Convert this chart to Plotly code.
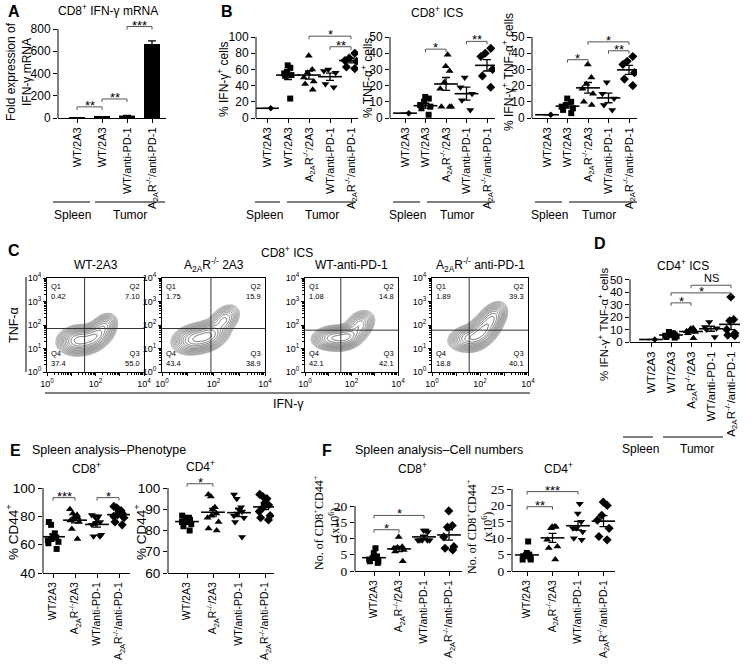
import numpy as np
import plotly.graph_objects as go

W, H = 753, 665
SANS = "Liberation Sans"
SERIF = "Liberation Serif"
A2A = "A<sub>2A</sub>R<sup>-/-</sup>"

# ---------------- data ----------------
# Panel A (bar: fold expression of IFN-g mRNA)
a_labels = ["WT/2A3", "WT/2A3", "WT/anti-PD-1", A2A + "/anti-PD-1"]
a_mean = [2, 11, 22, 665]
a_sem = [0, 1, 2, 28]
a_yticks = [0, 200, 400, 600, 800]
a_sig = [(0, 1, 100, "**"), (1, 2, 171, "**"), (2, 3, 822, "***")]

# Panel B (CD8+ ICS)
ics_labels = ["WT/2A3", "WT/2A3", A2A + "/2A3", "WT/anti-PD-1", A2A + "/anti-PD-1"]
b1_pts = [[12], [65, 62, 57, 55, 53, 52, 24], [77, 60, 56, 50, 45, 42, 35],
          [60, 58, 56, 42, 38], [80, 74, 71, 70, 63, 61]]
b1_mean = [12, 53, 53, 51, 71]
b1_sem = [0, 5.5, 5, 4.5, 3]
b1_yticks = [0, 20, 40, 60, 80, 100]
b1_sig = [(2, 4, 101, "*"), (3, 4, 88, "**")]

b2_pts = [[3], [13, 12, 10, 8, 7, 6, 2], [39, 32, 29, 22, 18, 7, 7, 7],
          [25, 19, 15, 11, 5], [43, 40, 38, 30, 26, 19]]
b2_mean = [3, 7.6, 21, 15, 32.5]
b2_sem = [0, 1.5, 4, 4, 3.5]
b2_yticks = [0, 10, 20, 30, 40, 50]
b2_sig = [(1, 2, 42.5, "*"), (3, 4, 47.3, "**")]

b3_pts = [[2], [12, 10, 8, 7, 6, 5, 3], [33, 25, 21, 18, 15, 10, 8],
          [22, 15, 12, 8, 5], [38, 35, 33, 28, 24, 20]]
b3_mean = [2, 7.3, 18.6, 12.4, 29.7]
b3_sem = [0, 1.2, 3.3, 3, 2.8]
b3_yticks = [0, 10, 20, 30, 40, 50]
b3_sig = [(1, 2, 36, "*"), (2, 4, 47, "*"), (3, 4, 41.5, "**")]

# Panel C (flow contour plots)
c_titles = ["WT-2A3", A2A + " 2A3", "WT-anti-PD-1", A2A + " anti-PD-1"]
c_q1 = ["0.42", "1.75", "1.08", "1.89"]
c_q2 = ["7.10", "15.9", "14.8", "39.3"]
c_q4 = ["37.4", "43.4", "42.1", "18.8"]
c_q3 = ["55.0", "38.9", "42.1", "40.1"]
c_gate_x = [1.55, 1.9, 1.54, 1.55]
c_gate_y = [1.85, 1.85, 1.78, 1.78]
# population blobs: (x, y, sx, sy, rho, weight) in log10 units
c_blobs = [
    [(1.3, 1.35, 0.32, 0.23, 0.1, 1.0), (1.95, 1.5, 0.3, 0.25, 0.4, 0.85), (2.35, 1.95, 0.22, 0.22, 0.3, 0.3)],
    [(1.25, 1.4, 0.32, 0.24, 0.2, 0.9), (1.8, 1.55, 0.3, 0.25, 0.3, 1.0), (2.4, 2.2, 0.24, 0.26, 0.4, 0.4)],
    [(1.2, 1.45, 0.33, 0.19, 0.1, 0.9), (1.8, 1.5, 0.3, 0.21, 0.3, 1.0), (2.35, 2.0, 0.25, 0.24, 0.3, 0.45)],
    [(1.55, 1.45, 0.32, 0.21, 0.2, 0.7), (2.1, 1.75, 0.3, 0.3, 0.5, 1.0), (2.5, 2.3, 0.24, 0.26, 0.4, 0.55)],
]

# Panel D (CD4+ ICS)
d_pts = [[2], [8, 7, 6.5, 6, 5.5, 5, 4.5, 4, 3.5], [11, 10.5, 10, 9, 8.5, 8, 7, 3],
         [16, 12, 11, 10, 4], [36, 18, 17, 10, 7, 5.5, 5]]
d_mean = [2, 5.6, 8.4, 10.6, 14.1]
d_sem = [0, 0.5, 0.9, 2, 4.2]
d_yticks = [0, 10, 20, 30, 40, 50]
d_sig = [(1, 2, 31.3, "*"), (1, 4, 39.3, "*"), (2, 4, 45.4, "NS")]

# Panel E (spleen phenotype, % CD44+)
e_labels = ["WT/2A3", A2A + "/2A3", "WT/anti-PD-1", A2A + "/anti-PD-1"]
e1_pts = [[76, 74, 68, 66, 65, 64, 63, 62, 61, 57], [85, 82, 81, 80, 79, 78, 77, 76, 71, 64],
          [81, 80, 80, 78, 76, 75, 74, 67, 66, 66], [87, 86, 84, 83, 82, 81, 80, 79, 76, 74]]
e1_mean = [65.6, 77.3, 74.3, 81.2]
e1_sem = [1.8, 1.9, 1.9, 1.3]
e1_yticks = [40, 60, 80, 100]
e1_sig = [(0, 1, 93.2, "***"), (2, 3, 93.2, "*")]
e2_pts = [[87, 86, 86, 85, 85, 84, 84, 83, 82, 80], [97, 96, 91, 90, 88, 87, 86, 84, 81, 80],
          [97, 95, 91, 90, 89, 88, 87, 86, 84, 77], [97, 96, 95, 93, 92, 91, 89, 87, 86, 85]]
e2_mean = [84.2, 88.6, 88.4, 91.1]
e2_sem = [0.6, 1.8, 1.8, 1.3]
e2_yticks = [60, 70, 80, 90, 100]
e2_sig = [(0, 1, 102, "*")]

# Panel F (spleen cell numbers, x10^6)
f1_pts = [[7, 5.5, 4.5, 4, 3.5, 3, 3, 2.5], [10.5, 7.5, 7.2, 7, 6.5, 6, 3],
          [12.5, 12.5, 12, 9.5, 9.5, 9.5, 9.5, 9.5], [18.5, 14, 13.5, 10.5, 7.5, 7, 6.5]]
f1_mean = [4.1, 6.8, 10.5, 11.1]
f1_sem = [0.5, 0.8, 0.5, 1.6]
f1_yticks = [0, 5, 10, 15, 20]
f1_sig = [(0, 1, 12.7, "*"), (0, 2, 17.1, "*")]
f2_pts = [[9, 5.5, 5, 4.5, 4.5, 4, 3.5, 3.5], [13.5, 13.5, 13.5, 13, 9.5, 7.5, 7, 3.5],
          [20.5, 17.5, 15, 13, 13, 12, 10, 9.5], [21, 20, 17, 15.5, 13, 10.5, 9.5]]
f2_mean = [4.9, 10.1, 13.8, 15.2]
f2_sem = [0.6, 1.4, 1.3, 1.7]
f2_yticks = [0, 5, 10, 15, 20, 25]
f2_sig = [(0, 1, 19.6, "**"), (0, 2, 24.2, "***")]

ics_symbols = ["diamond", "square", "triangle-up", "triangle-down", "diamond"]
ics_sizes = [5, 6, 7, 7, 7]
e_symbols = ["square", "triangle-up", "triangle-down", "diamond"]
e_sizes = [6, 7, 7, 7]

# ---------------- figure ----------------
fig = go.Figure()
layout = dict(template="none", width=W, height=H, margin=dict(l=0, r=0, t=0, b=0, pad=0, autoexpand=False),
              paper_bgcolor="white", plot_bgcolor="white", showlegend=False,
              font=dict(family=SANS, color="black"))
ann, shp = [], []


def ids(i):
    return ("x" if i == 1 else f"x{i}"), ("y" if i == 1 else f"y{i}")


def keys(i):
    return ("xaxis" if i == 1 else f"xaxis{i}"), ("yaxis" if i == 1 else f"yaxis{i}")


def text(x, y, s, size=12, family=SANS, angle=0, xanchor="center", yanchor="middle", align="center"):
    ann.append(dict(x=x / W, y=1 - y / H, xref="paper", yref="paper", text=s, showarrow=False,
                    font=dict(size=size, family=family, color="black"), textangle=angle,
                    xanchor=xanchor, yanchor=yanchor, align=align))


def pline(x0, y0, x1, y1, color="black", width=1):
    shp.append(dict(type="line", xref="paper", yref="paper", x0=x0 / W, x1=x1 / W,
                    y0=1 - y0 / H, y1=1 - y1 / H, line=dict(color=color, width=width)))


def cat_panel(i, spec, labels, yticks, yfont=12, yfam=SANS, xfont=11):
    x0, x1, top, bottom, c0, step, ymin, ppu = spec
    xr = [-(c0 - x0) / step, (x1 - c0) / step]
    yr = [ymin, ymin + (bottom - top) / ppu]
    xk, yk = keys(i)
    xid, yid = ids(i)
    layout[xk] = dict(domain=[x0 / W, x1 / W], range=xr, anchor=yid, showgrid=False, zeroline=False,
                      automargin=False, tickmode="array", tickvals=list(range(len(labels))), ticktext=labels,
                      tickangle=-90, ticks="outside", ticklen=4, tickcolor="black", tickwidth=1,
                      showline=True, linecolor="black", linewidth=1,
                      tickfont=dict(size=xfont, family=SANS, color="black"))
    layout[yk] = dict(domain=[1 - bottom / H, 1 - top / H], range=yr, anchor=xid, showgrid=False,
                      zeroline=False, automargin=False, tickmode="array", tickvals=yticks,
                      ticks="outside", ticklen=4, tickcolor="black", tickwidth=1, showline=False,
                      tickfont=dict(size=yfont, family=yfam, color="black"))
    shp.append(dict(type="line", xref="paper", yref=yid, x0=x0 / W, x1=x0 / W, y0=ymin, y1=yticks[-1],
                    line=dict(color="black", width=1)))
    return step, ppu


def sig(i, ppu, items):
    xid, yid = ids(i)
    d = 3.0 / ppu
    for a, b, y, s in items:
        shp.append(dict(type="path", xref=xid, yref=yid,
                        path=f"M{a},{y - d} L{a},{y} L{b},{y} L{b},{y - d}",
                        line=dict(color="#555", width=1)))
        ann.append(dict(xref=xid, yref=yid, x=(a + b) / 2, y=y, text=s, showarrow=False,
                        yanchor="bottom", yshift=(-8 if "*" in s else -1),
                        font=dict(size=13 if "*" in s else 11, family=SANS, color="black")))


def dots(i, step, pts, means, sems, symbols, sizes):
    xid, yid = ids(i)
    for k, vals in enumerate(pts):
        fig.add_trace(go.Box(x=[k] * len(vals), y=vals, xaxis=xid, yaxis=yid, boxpoints="all",
                             jitter=0.9, pointpos=0, width=16.0 / step,
                             fillcolor="rgba(0,0,0,0)", line=dict(color="rgba(0,0,0,0)", width=0),
                             whiskerwidth=0, marker=dict(symbol=symbols[k], size=sizes[k], color="black"),
                             hoverinfo="skip", showlegend=False))
    fig.add_trace(go.Scatter(x=list(range(len(means))), y=means, xaxis=xid, yaxis=yid, mode="markers",
                             marker=dict(symbol="line-ew", size=17, line=dict(width=1.6, color="black")),
                             error_y=dict(type="data", array=sems, color="black", thickness=1.3, width=4),
                             hoverinfo="skip", showlegend=False))


def groups(line_y, text_y, sp_line, tu_line, sp_x, tu_x):
    pline(sp_line[0], line_y, sp_line[1], line_y)
    pline(tu_line[0], line_y, tu_line[1], line_y)
    text(sp_x, text_y, "Spleen", size=12)
    text(tu_x, text_y, "Tumor", size=12)


# ---- Panel A ----
step, ppu = cat_panel(1, (58, 166, 20, 118, 77, 25, 0, 89 / 800), a_labels, a_yticks, yfont=12)
fig.add_trace(go.Bar(x=list(range(4)), y=a_mean, width=0.64, marker=dict(color="black", line=dict(width=0)),
                     error_y=dict(type="data", array=a_sem, color="black", thickness=1.3, width=4),
                     xaxis="x", yaxis="y", hoverinfo="skip", showlegend=False))
sig(1, ppu, a_sig)
text(6, 12, "<b>A</b>", size=16, xanchor="left")
text(108, 10, "CD8<sup>+</sup> IFN-γ mRNA", size=12)
text(19, 72, "Fold expression of<br>IFN-γ mRNA", size=12, angle=-90)
groups(202, 215, (53, 90), (95, 165), 72, 130)

# ---- Panel B ----
step, ppu = cat_panel(2, (256, 358, 25, 118, 267, 21, 0, 0.81), ics_labels, b1_yticks)
dots(2, step, b1_pts, b1_mean, b1_sem, ics_symbols, ics_sizes)
sig(2, ppu, b1_sig)
step, ppu = cat_panel(3, (390, 495, 25, 118, 405, 20.5, 0, 1.62), ics_labels, b2_yticks)
dots(3, step, b2_pts, b2_mean, b2_sem, ics_symbols, ics_sizes)
sig(3, ppu, b2_sig)
step, ppu = cat_panel(4, (532, 637, 25, 118, 547, 20.5, 0, 1.62), ics_labels, b3_yticks)
dots(4, step, b3_pts, b3_mean, b3_sem, ics_symbols, ics_sizes)
sig(4, ppu, b3_sig)
text(227, 12, "<b>B</b>", size=16)
text(437, 12, "CD8<sup>+</sup> ICS", size=12)
text(223, 79, "% IFN-γ<sup>+</sup> cells", size=12, angle=-90)
text(367, 78, "% TNF-α<sup>+</sup> cells", size=12, angle=-90)
text(508, 72, "% IFN-γ<sup>+</sup> TNF-α<sup>+</sup> cells", size=12, angle=-90)
groups(202, 215, (255, 280), (287, 356), 264, 322)
groups(202, 215, (393, 420), (427, 495), 407, 457)
groups(202, 215, (535, 562), (569, 637), 549, 599)

# ---- Panel D ----
step, ppu = cat_panel(5, (630, 740, 268, 342, 651, 20, 0, 1.25), ics_labels, d_yticks, yfont=11.5, xfont=11.5)
dots(5, step, d_pts, d_mean, d_sem, ics_symbols, ics_sizes)
sig(5, ppu, d_sig)
text(600, 243, "<b>D</b>", size=16)
text(683, 265, "CD4<sup>+</sup> ICS", size=12)
text(603, 325, "% IFN-γ<sup>+</sup> TNF-α<sup>+</sup> cells", size=11.5, angle=-90)
groups(437, 449, (623, 653), (663, 723), 640, 697)

# ---- Panel E ----
step, ppu = cat_panel(6, (43, 130, 478, 573, 53, 22, 40, 85 / 60), e_labels, e1_yticks, yfont=13.5, xfont=10.5)
dots(6, step, e1_pts, e1_mean, e1_sem, e_symbols, e_sizes)
sig(6, ppu, e1_sig)
step, ppu = cat_panel(7, (168, 274, 476, 573, 187, 26, 60, 2.125), e_labels, e2_yticks, yfont=13.5, xfont=10.5)
dots(7, step, e2_pts, e2_mean, e2_sem, e_symbols, e_sizes)
sig(7, ppu, e2_sig)
text(8, 450, "<b>E</b>", size=16, xanchor="left")
text(30, 450, "Spleen analysis–Phenotype", size=12.5, xanchor="left")
text(86, 468, "CD8<sup>+</sup>", size=12)
text(200, 466, "CD4<sup>+</sup>", size=12)
text(12, 532, "% CD44<sup>+</sup>", size=13.5, angle=-90)
text(140, 532, "% CD44<sup>+</sup>", size=13.5, angle=-90)

# ---- Panel F ----
step, ppu = cat_panel(8, (355, 462, 498, 571, 374, 25, 0, 3.25), e_labels, f1_yticks, yfont=13.5, yfam=SERIF, xfont=10.5)
dots(8, step, f1_pts, f1_mean, f1_sem, e_symbols, e_sizes)
sig(8, ppu, f1_sig)
step, ppu = cat_panel(9, (512, 615, 482, 571, 527, 25.5, 0, 3.28), e_labels, f2_yticks, yfont=13.5, yfam=SERIF, xfont=10.5)
dots(9, step, f2_pts, f2_mean, f2_sem, e_symbols, e_sizes)
sig(9, ppu, f2_sig)
text(320, 450, "<b>F</b>", size=16, xanchor="left")
text(353, 450, "Spleen analysis–Cell numbers", size=12.5, xanchor="left")
text(413, 468, "CD8<sup>+</sup>", size=12)
text(558, 468, "CD4<sup>+</sup>", size=12)
text(326, 523, "No. of CD8<sup>+</sup>CD44<sup>+</sup><br>(x10<sup>6</sup>)", size=12, family=SERIF, angle=-90)
text(479, 527, "No. of CD8<sup>+</sup>CD44<sup>+</sup><br>(x10<sup>6</sup>)", size=12, family=SERIF, angle=-90)

# ---- Panel C ----
c_boxes = [(47, 144), (162, 265), (305, 398), (432, 528)]
c_top, c_bottom = 278, 372
gx = np.linspace(0, 4, 161)
gy = np.linspace(0, 4, 161)
GX, GY = np.meshgrid(gx, gy)
minor = [n + np.log10(m) for n in range(4) for m in range(2, 10)]
for j in range(4):
    i = 10 + j
    xid, yid = ids(i)
    xk, yk = keys(i)
    x0, x1 = c_boxes[j]
    layout[xk] = dict(domain=[x0 / W, x1 / W], range=[0, 4], anchor=yid, showgrid=False, zeroline=False,
                      automargin=False, showline=True, mirror=True, linecolor="black", linewidth=1,
                      tickmode="array", tickvals=[0, 1, 2, 3, 4],
                      ticktext=["10<sup>0</sup>", "", "10<sup>2</sup>", "", "10<sup>4</sup>"],
                      ticks="outside", ticklen=3, tickcolor="black", tickwidth=1,
                      minor=dict(tickvals=minor, ticks="outside", ticklen=2, tickcolor="black", tickwidth=1),
                      tickfont=dict(size=9, family=SANS, color="black"))
    layout[yk] = dict(domain=[1 - c_bottom / H, 1 - c_top / H], range=[0, 4], anchor=xid, showgrid=False,
                      zeroline=False, automargin=False, showline=True, mirror=True, linecolor="black",
                      linewidth=1, tickmode="array", tickvals=[0, 1, 2, 3, 4],
                      ticktext=["10<sup>%d</sup>" % k for k in range(5)],
                      ticks="outside", ticklen=3, tickcolor="black", tickwidth=1,
                      minor=dict(tickvals=minor, ticks="outside", ticklen=2, tickcolor="black", tickwidth=1),
                      tickfont=dict(size=9, family=SANS, color="black"))
    z = np.zeros_like(GX)
    for (mx, my, sx, sy, rho, w) in c_blobs[j]:
        dx = (GX - mx) / sx
        dy = (GY - my) / sy
        q = (dx ** 2 - 2 * rho * dx * dy + dy ** 2) / (1 - rho ** 2)
        z = z + w * np.exp(-q / 2)
    z = np.log10(z / z.max() + 1e-12)
    fig.add_trace(go.Contour(x=gx, y=gy, z=z, xaxis=xid, yaxis=yid, showscale=False,
                             contours=dict(coloring="lines", start=-1.9, end=-0.1, size=0.15),
                             colorscale=[[0, "#9a9a9a"], [1, "#444444"]], zmin=-1.9, zmax=0,
                             line=dict(width=0.8, smoothing=1.0), hoverinfo="skip"))
    gxv, gyv = c_gate_x[j], c_gate_y[j]
    shp.append(dict(type="line", xref=xid, yref=yid, x0=gxv, x1=gxv, y0=0, y1=4, line=dict(color="#333", width=1)))
    shp.append(dict(type="line", xref=xid, yref=yid, x0=0, x1=4, y0=gyv, y1=gyv, line=dict(color="#333", width=1)))
    qf = dict(size=7.5, family=SANS, color="black")
    ann.append(dict(xref=xid, yref=yid, x=0.08, y=3.92, text="Q1<br>" + c_q1[j], showarrow=False,
                    xanchor="left", yanchor="top", align="left", font=qf))
    ann.append(dict(xref=xid, yref=yid, x=3.92, y=3.92, text="Q2<br>" + c_q2[j], showarrow=False,
                    xanchor="right", yanchor="top", align="right", font=qf))
    ann.append(dict(xref=xid, yref=yid, x=0.08, y=0.08, text="Q4<br>" + c_q4[j], showarrow=False,
                    xanchor="left", yanchor="bottom", align="left", font=qf))
    ann.append(dict(xref=xid, yref=yid, x=3.92, y=0.08, text="Q3<br>" + c_q3[j], showarrow=False,
                    xanchor="right", yanchor="bottom", align="right", font=qf))
    text((x0 + x1) / 2, 265, c_titles[j], size=12)

text(6, 250, "<b>C</b>", size=16, xanchor="left")
text(287, 252, "CD8<sup>+</sup> ICS", size=12)
text(14, 325, "TNF-α", size=12.5, angle=-90)
pline(26, 277, 26, 372)
pline(45, 393, 530, 393)
text(288, 404, "IFN-γ", size=12.5)

layout["annotations"] = ann
layout["shapes"] = shp
fig.update_layout(**layout)
fig.write_html("out.html", config={"displayModeBar": False},
               post_script="document.body.style.margin='0px';document.body.style.padding='0px';"
                           "document.body.style.overflow='hidden';")
